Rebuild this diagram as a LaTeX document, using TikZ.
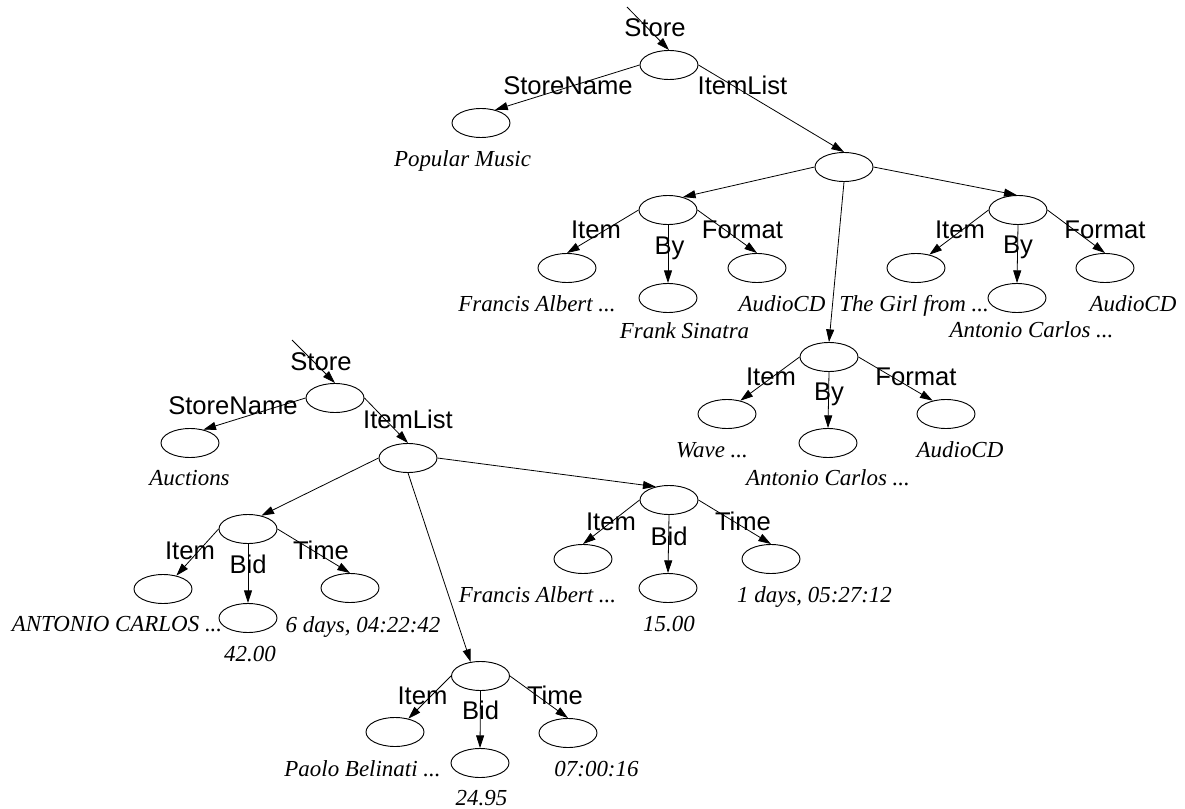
\documentclass[tikz,border=0pt]{standalone}
\usepackage{fontspec}
\setmainfont{Liberation Serif}
\setsansfont{Liberation Sans}
\usetikzlibrary{arrows.meta,shapes.geometric}
\begin{document}
\begin{tikzpicture}[x=0.75pt,y=-0.75pt,
  obj/.style={draw,ellipse,line width=0.7pt,minimum width=43.5pt,minimum height=21.75pt,inner sep=0pt},
  edge/.style={line width=0.6pt,-{Triangle[length=9.5pt,width=6pt]}},
  tag/.style={anchor=base,inner sep=0pt,font=\sffamily\fontsize{19.2}{22}\selectfont},
  val/.style={anchor=base,inner sep=0pt,font=\itshape\fontsize{17.2}{20}\selectfont}]
\useasboundingbox (0,0) rectangle (1185,809);

% ---------------- Store: Popular Music ----------------
\coordinate (t1) at (627,7);
\node[obj] (R1)  at (669,65) {};
\node[obj] (SN1) at (481,123) {};
\node[obj] (IL1) at (844,167) {};
\node[obj] (G1)  at (668,210) {};
\node[obj] (G1a) at (567,268) {};
\node[obj] (G1b) at (668,298) {};
\node[obj] (G1c) at (757,268) {};
\node[obj] (G2)  at (829,357) {};
\node[obj] (G2a) at (727,414) {};
\node[obj] (G2b) at (828,443) {};
\node[obj] (G2c) at (946,414) {};
\node[obj] (G3)  at (1018,210) {};
\node[obj] (G3a) at (916,268) {};
\node[obj] (G3b) at (1017,298) {};
\node[obj] (G3c) at (1105,268) {};

\draw[edge] (t1) -- (R1.north);
\draw[edge] (R1.west) -- (SN1.43);
\draw[edge] (R1.east) -- (IL1.north);
\draw[edge] (IL1.west) -- (G1.41);
\draw[edge] (IL1.south) -- (G2.north);
\draw[edge] (IL1.east) -- (G3.95);
\draw[edge] (G1.west) -- (G1a.north);
\draw[edge] (G1.south) -- (G1b.north);
\draw[edge] (G1.east) -- (G1c.north);
\draw[edge] (G2.west) -- (G2a.45);
\draw[edge] (G2.south) -- (G2b.north);
\draw[edge] (G2.east) -- (G2c.135);
\draw[edge] (G3.west) -- (G3a.45);
\draw[edge] (G3.south) -- (G3b.north);
\draw[edge] (G3.east) -- (G3c.north);

\node[tag] (lR1)  at (655,37) {Store};
\node[tag] (lSN1) at (568,95) {StoreName};
\node[tag] (lIL1) at (742.5,95) {ItemList};
\node[tag] (lG1a) at (596,239) {Item};
\node[tag] (lG1b) at (669.5,255) {By};
\node[tag] (lG1c) at (742.5,239) {Format};
\node[tag] (lG2a) at (771,385) {Item};
\node[tag] (lG2b) at (829,400) {By};
\node[tag] (lG2c) at (916,385) {Format};
\node[tag] (lG3a) at (960,239) {Item};
\node[tag] (lG3b) at (1018,254) {By};
\node[tag] (lG3c) at (1105,239) {Format};

\node[val] (vSN1) at (462.5,167) {Popular Music};
\node[val] (vG1a) at (537,311) {Francis Albert ...};
\node[val] (vG1b) at (684.5,339) {Frank Sinatra};
\node[val] (vG1c) at (782,311) {AudioCD};
\node[val] (vG2a) at (712,457) {Wave ...};
\node[val] (vG2b) at (828,485) {Antonio Carlos ...};
\node[val] (vG2c) at (960,457) {AudioCD};
\node[val] (vG3a) at (914,311) {The Girl from ...};
\node[val] (vG3b) at (1031.5,338) {Antonio Carlos ...};
\node[val] (vG3c) at (1133,311) {AudioCD};

% ---------------- Store: Auctions ----------------
\coordinate (t2) at (292,340);
\node[obj] (R2)  at (335,398) {};
\node[obj] (SN2) at (190,443) {};
\node[obj] (IL2) at (408,458) {};
\node[obj] (B1)  at (248,529) {};
\node[obj] (B1a) at (163,589) {};
\node[obj] (B1b) at (248,618) {};
\node[obj] (B1c) at (350,588) {};
\node[obj] (B2)  at (669,500) {};
\node[obj] (B2a) at (583,559) {};
\node[obj] (B2b) at (668,588) {};
\node[obj] (B2c) at (771,559) {};
\node[obj] (B3)  at (480.5,676) {};
\node[obj] (B3a) at (395,732) {};
\node[obj] (B3b) at (480,763) {};
\node[obj] (B3c) at (568,733) {};

\draw[edge] (t2) -- (R2.north);
\draw[edge] (R2.west) -- (SN2.45);
\draw[edge] (R2.east) -- (IL2.north);
\draw[edge] (IL2.west) -- (B1.45);
\draw[edge] (IL2.east) -- (B2.135);
\draw[edge] (IL2.south) -- (B3.125);
\draw[edge] (B1.west) -- (B1a.45);
\draw[edge] (B1.south) -- (B1b.north);
\draw[edge] (B1.east) -- (B1c.north);
\draw[edge] (B2.west) -- (B2a.north);
\draw[edge] (B2.south) -- (B2b.north);
\draw[edge] (B2.east) -- (B2c.north);
\draw[edge] (B3.west) -- (B3a.45);
\draw[edge] (B3.south) -- (B3b.north);
\draw[edge] (B3.east) -- (B3c.north);

\node[tag] (lR2)  at (321,370) {Store};
\node[tag] (lSN2) at (233,414) {StoreName};
\node[tag] (lIL2) at (408,428) {ItemList};
\node[tag] (lB1a) at (190,559) {Item};
\node[tag] (lB1b) at (248,573) {Bid};
\node[tag] (lB1c) at (321,559) {Time};
\node[tag] (lB2a) at (611,530) {Item};
\node[tag] (lB2b) at (669,545) {Bid};
\node[tag] (lB2c) at (743,530) {Time};
\node[tag] (lB3a) at (422.5,704) {Item};
\node[tag] (lB3b) at (480.5,719) {Bid};
\node[tag] (lB3c) at (555,704) {Time};

\node[val] (vSN2) at (189.5,485) {Auctions};
\node[val] (vB1a) at (117,631) {ANTONIO CARLOS ...};
\node[val] (vB1b) at (250,661) {42.00};
\node[val] (vB1c) at (363,632) {6 days, 04:22:42};
\node[val] (vB2a) at (537.5,602) {Francis Albert ...};
\node[val] (vB2b) at (669,631) {15.00};
\node[val] (vB2c) at (814.5,602) {1 days, 05:27:12};
\node[val] (vB3a) at (362.5,776) {Paolo Belinati ...};
\node[val] (vB3b) at (481.5,805) {24.95};
\node[val] (vB3c) at (596.5,776) {07:00:16};
\end{tikzpicture}
\end{document}
